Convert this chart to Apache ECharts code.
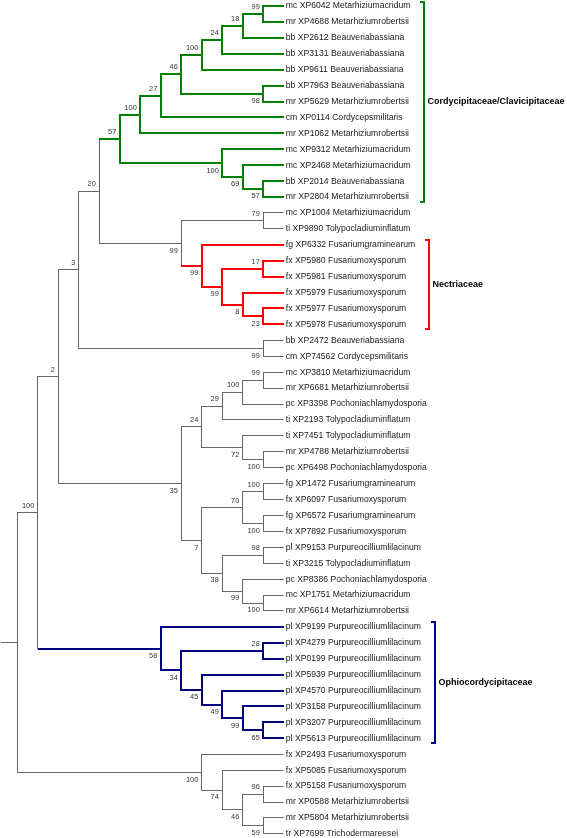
<!DOCTYPE html>
<html><head><meta charset="utf-8">
<script src="https://cdn.jsdelivr.net/npm/echarts@6/dist/echarts.min.js"></script>
<style>html,body{margin:0;padding:0;background:#fff}#c{width:567px;height:838px}</style>
</head><body><div id="c"></div>
<script>
// ---- data ----
const leafNames = [
  'mc XP6042 Metarhiziumacridum','mr XP4688 Metarhiziumrobertsii','bb XP2612 Beauveriabassiana',
  'bb XP3131 Beauveriabassiana','bb XP9611 Beauveriabassiana','bb XP7963 Beauveriabassiana',
  'mr XP5629 Metarhiziumrobertsii','cm XP0114 Cordycepsmilitaris','mr XP1062 Metarhiziumrobertsii',
  'mc XP9312 Metarhiziumacridum','mc XP2468 Metarhiziumacridum','bb XP2014 Beauveriabassiana',
  'mr XP2804 Metarhiziumrobertsii','mc XP1004 Metarhiziumacridum','ti XP9890 Tolypocladiuminflatum',
  'fg XP6332 Fusariumgraminearum','fx XP5980 Fusariumoxysporum','fx XP5981 Fusariumoxysporum',
  'fx XP5979 Fusariumoxysporum','fx XP5977 Fusariumoxysporum','fx XP5978 Fusariumoxysporum',
  'bb XP2472 Beauveriabassiana','cm XP74562 Cordycepsmilitaris','mc XP3810 Metarhiziumacridum',
  'mr XP6681 Metarhiziumrobertsii','pc XP3398 Pochoniachlamydosporia','ti XP2193 Tolypocladiuminflatum',
  'ti XP7451 Tolypocladiuminflatum','mr XP4788 Metarhiziumrobertsii','pc XP6498 Pochoniachlamydosporia',
  'fg XP1472 Fusariumgraminearum','fx XP6097 Fusariumoxysporum','fg XP6572 Fusariumgraminearum',
  'fx XP7892 Fusariumoxysporum','pl XP9153 Purpureocilliumlilacinum','ti XP3215 Tolypocladiuminflatum',
  'pc XP8386 Pochoniachlamydosporia','mc XP1751 Metarhiziumacridum','mr XP6614 Metarhiziumrobertsii',
  'pl XP9199 Purpureocilliumlilacinum','pl XP4279 Purpureocilliumlilacinum','pl XP0199 Purpureocilliumlilacinum',
  'pl XP5939 Purpureocilliumlilacinum','pl XP4570 Purpureocilliumlilacinum','pl XP3158 Purpureocilliumlilacinum',
  'pl XP3207 Purpureocilliumlilacinum','pl XP5613 Purpureocilliumlilacinum','fx XP2493 Fusariumoxysporum',
  'fx XP5085 Fusariumoxysporum','fx XP5158 Fusariumoxysporum','mr XP0588 Metarhiziumrobertsii',
  'mr XP5804 Metarhiziumrobertsii','tr XP7699 Trichodermareesei'
];
// topology (leaf indices) with bootstrap support after each clade
const treeNewick = '(((((((((((((0,1)99,2)18,3)24,4)100,(5,6)98)46,7)27,8)100,(9,(10,(11,12)57)69)100)57,' +
  '((13,14)79,(15,((16,17)17,(18,(19,20)23)8)99)99)99)20,(21,22)99)3,' +
  '(((((23,24)99,25)100,26)29,(27,(28,29)100)72)24,(((30,31)100,(32,33)100)70,((34,35)98,(36,(37,38)100)99)38)7)35)2,' +
  '(39,((40,41)28,(42,(43,(44,(45,46)65)99)49)45)34)58)100,' +
  '(47,(48,((49,50)96,(51,52)59)46)74)100)';
const cladeNames = ['Cordycipitaceae/Clavicipitaceae', 'Nectriaceae', 'Ophiocordycipitaceae'];
const cladeFirstLeaf = [0, 15, 39];
const cladeLastLeaf = [12, 20, 46];
const cladeColors = ['#008000', '#ff0000', '#000080'];

// ---- styles ----
const GRAY = '#666666';
const LEAF_FONT_SIZE = 8.65, BOOT_FONT_SIZE = 7.4, CLADE_FONT_SIZE = 9;
const FAMILY = '"Liberation Sans", Arial, sans-serif';
const X_MAX = 13.844, X_MIN = -13.815, Y_MIN = -0.377, Y_MAX = 52.26;

// ---- parse & layout ----
function parseNewick(s) {
  let i = 0;
  function num() { let t = ''; while (i < s.length && /[0-9]/.test(s[i])) t += s[i++]; return t; }
  function node() {
    if (s[i] === '(') {
      i++;
      const ch = [node()];
      while (s[i] === ',') { i++; ch.push(node()); }
      if (s[i] !== ')') throw new Error('bad newick at ' + i);
      i++;
      const t = num();
      return { children: ch, support: t === '' ? null : +t };
    }
    return { leaf: +num() };
  }
  return node();
}
const root = parseNewick(treeNewick);
function layout(n) {
  if (n.children) {
    n.children.forEach(layout);
    n.h = 1 + Math.max(...n.children.map(c => c.h));
    n.y = (n.children[0].y + n.children[n.children.length - 1].y) / 2;
    n.lo = Math.min(...n.children.map(c => c.lo));
    n.hi = Math.max(...n.children.map(c => c.hi));
    n.cnt = n.children.reduce((a, c) => a + c.cnt, 0);
  } else { n.h = 0; n.y = n.leaf; n.lo = n.hi = n.leaf; n.cnt = 1; }
}
layout(root);
function paint(n, c) { n.color = c; if (n.children) n.children.forEach(ch => paint(ch, c)); }
function initColor(n) { n.color = -1; if (n.children) n.children.forEach(initColor); }
initColor(root);
function findClade(n, lo, hi) {
  if (n.lo === lo && n.hi === hi && n.cnt === hi - lo + 1) return n;
  if (n.children) for (const c of n.children) { const r = findClade(c, lo, hi); if (r) return r; }
  return null;
}
cladeNames.forEach((_, k) => { const n = findClade(root, cladeFirstLeaf[k], cladeLastLeaf[k]); if (n) paint(n, k); });

const segData = [];   // [x1,y1,x2,y2,colorIndex,isVertical]
const bootData = [];  // [h,y,support,above]
segData.push([X_MAX, root.y, root.h, root.y, root.color, 0]);
(function walk(n) {
  if (!n.children) return;
  const f = n.children[0], l = n.children[n.children.length - 1];
  segData.push([n.h, f.y, n.h, l.y, n.color, 1]);
  n.children.forEach((c, idx) => {
    segData.push([n.h, c.y, c.h, c.y, c.color, 0]);
    if (c.children && c.support != null) bootData.push([c.h, c.y, c.support, idx === 0 ? 1 : 0]);
    walk(c);
  });
})(root);

// ---- text measure ----
const mctx = document.createElement('canvas').getContext('2d');
mctx.font = LEAF_FONT_SIZE + 'px ' + FAMILY;
const leafWidths = leafNames.map(t => mctx.measureText(t).width);

const chart = echarts.init(document.getElementById('c'), null, { renderer: 'canvas', width: 567, height: 838 });
chart.setOption({
  animation: false,
  backgroundColor: '#ffffff',
  grid: { left: 0, right: 0, top: 0, bottom: 0 },
  xAxis: { type: 'value', inverse: true, min: X_MIN, max: X_MAX, show: false },
  yAxis: { type: 'value', inverse: true, min: Y_MIN, max: Y_MAX, show: false },
  series: [
    {
      type: 'custom', coordinateSystem: 'cartesian2d', silent: true, clip: false,
      data: segData,
      renderItem(params, api) {
        const p1 = api.coord([api.value(0), api.value(1)]);
        const p2 = api.coord([api.value(2), api.value(3)]);
        const ci = api.value(4);
        const vert = api.value(5) === 1;
        const w = ci < 0 ? 1 : 2;
        const snap = v => w === 1 ? Math.round(v - 0.5) + 0.5 : Math.round(v);
        let x1 = snap(p1[0]), y1 = snap(p1[1]), x2 = snap(p2[0]), y2 = snap(p2[1]);
        if (vert) { const e = w / 2; y1 = Math.min(y1, y2) - e; y2 = Math.max(snap(p1[1]), y2) + e; }
        return {
          type: 'line',
          shape: { x1: x1, y1: y1, x2: x2, y2: y2 },
          style: { stroke: ci < 0 ? GRAY : cladeColors[ci], lineWidth: w, lineCap: 'butt' }
        };
      }
    },
    {
      type: 'custom', coordinateSystem: 'cartesian2d', silent: true, clip: false,
      data: leafNames.map((_, i) => [0, i]),
      renderItem(params, api) {
        const i = api.value(1);
        const p = api.coord([0, i]);
        return {
          type: 'text', x: p[0] + 2, y: p[1],
          style: { text: leafNames[i], fill: '#1a1a1a', fontSize: LEAF_FONT_SIZE, fontFamily: FAMILY,
                   align: 'left', verticalAlign: 'middle', textAlign: 'left', textVerticalAlign: 'middle' }
        };
      }
    },
    {
      type: 'custom', coordinateSystem: 'cartesian2d', silent: true, clip: false,
      data: bootData,
      renderItem(params, api) {
        const p = api.coord([api.value(0), api.value(1)]);
        const above = api.value(3) === 1;
        return {
          type: 'text', x: p[0] - 3.5, y: p[1] + (above ? -7 : 7.3),
          style: { text: String(api.value(2)), fill: '#333333', fontSize: BOOT_FONT_SIZE, fontFamily: FAMILY,
                   align: 'right', verticalAlign: 'middle', textAlign: 'right', textVerticalAlign: 'middle' }
        };
      }
    },
    {
      type: 'custom', coordinateSystem: 'cartesian2d', silent: true, clip: false,
      data: cladeNames.map((_, k) => [0, cladeFirstLeaf[k], k]),
      renderItem(params, api) {
        const k = api.value(2);
        const first = cladeFirstLeaf[k], last = cladeLastLeaf[k];
        const yTop = Math.round(api.coord([0, first])[1] - 4.5);
        const yBot = Math.round(api.coord([0, last])[1] + 4.5);
        let maxW = 0;
        for (let i = first; i <= last; i++) maxW = Math.max(maxW, leafWidths[i]);
        const bx = Math.round(api.coord([0, 0])[0] + 2 + maxW + 14);
        const midY = (api.coord([0, first])[1] + api.coord([0, last])[1]) / 2;
        return {
          type: 'group',
          children: [
            { type: 'polyline', shape: { points: [[bx - 4, yTop], [bx, yTop], [bx, yBot], [bx - 4, yBot]] },
              style: { stroke: cladeColors[k], lineWidth: 2, fill: null } },
            { type: 'text', x: bx + 3.5, y: midY,
              style: { text: cladeNames[k], fill: '#000000', fontSize: CLADE_FONT_SIZE, fontWeight: 'bold', fontFamily: FAMILY,
                       align: 'left', verticalAlign: 'middle', textAlign: 'left', textVerticalAlign: 'middle' } }
          ]
        };
      }
    }
  ]
});
</script>
</body></html>
